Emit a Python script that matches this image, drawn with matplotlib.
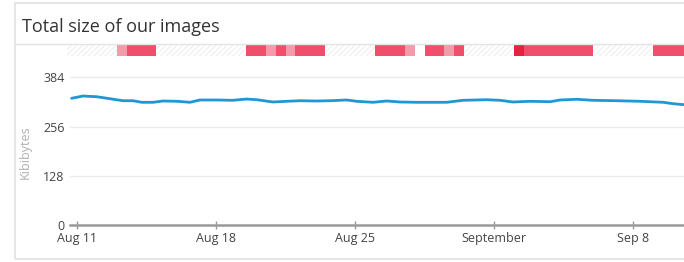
import matplotlib
matplotlib.use("Agg")
import matplotlib.pyplot as plt
from matplotlib.patches import Rectangle
import numpy as np

plt.rcParams['font.family'] = ['Open Sans', 'DejaVu Sans']
plt.rcParams['hatch.linewidth'] = 0.7

# line data: days after Aug 11, size in KiB
days = [-0.27, 0.30, 0.99, 1.66, 2.32, 2.82, 3.26, 3.83, 4.33, 5.04, 5.69, 6.19,
        7.03, 7.85, 8.54, 9.05, 9.87, 10.56, 11.23, 12.07, 12.74, 13.58, 14.08,
        14.90, 15.59, 16.26, 17.10, 18.61, 19.44, 20.63, 21.30, 21.95, 22.81,
        23.82, 24.32, 25.16, 25.98, 27.17, 28.35, 29.51, 30.01, 30.56]
kib = [329.6, 335.5, 333.7, 328.5, 323.3, 323.3, 319.2, 319.2, 322.6, 321.8,
       319.2, 325.2, 325.2, 324.4, 327.7, 325.9, 320.0, 321.8, 323.3, 322.6,
       323.3, 325.2, 321.8, 319.2, 322.6, 320.0, 319.2, 319.2, 324.4, 325.9,
       324.4, 320.0, 321.8, 320.7, 325.2, 327.0, 324.4, 323.3, 321.8, 319.2,
       315.6, 313.0]

# status strip: half-day buckets starting at day -0.5
# 0 = no data, -1 = blank, 1 = warning, 2 = alert, 3 = critical
status = [0, 0, 0, 0, 0, 1, 2, 2, 2,
          0, 0, 0, 0, 0, 0, 0, 0, 0,
          2, 2, 1, 2, 1, 2, 2, 2,
          0, 0, 0, 0, 0,
          2, 2, 2, 1, -1, 2, 2, 1, 2,
          0, 0, 0, 0, 0,
          3, 2, 2, 2, 2, 2, 2, 2,
          0, 0, 0, 0, 0, 0,
          2, 2, 2, 2]
status_colors = {-1: 'white', 1: '#f59aaa', 2: '#f04f6c', 3: '#e6203f'}

tick_days = [0, 7, 14, 21, 28]
tick_labels = ['Aug 11', 'Aug 18', 'Aug 25', 'September', 'Sep 8']
y_ticks = [0, 128, 256, 384]

W, H = 684, 262
fig = plt.figure(figsize=(W / 100, H / 100), dpi=100)
fig.patch.set_facecolor('white')

# card border + header separator
fig.patches.append(Rectangle((15 / W, 3 / H), 1, 256 / H, transform=fig.transFigure,
                             facecolor='none', edgecolor='#e2e2e2', lw=1.2, zorder=-1))
fig.add_artist(plt.Line2D([15 / W, 1], [1 - 43.5 / H, 1 - 43.5 / H],
                          color='#e4e4e4', lw=1, transform=fig.transFigure))
fig.text(22 / W, 1 - 32 / H, 'Total size of our images', fontsize=13,
         color='#333333', ha='left', va='baseline')

# status strip
x0 = -0.5
xmax = 30.56
sax = fig.add_axes([67 / W, 1 - 55.7 / H, 1 - 67 / W, 11.4 / H])
sax.bar(x0, 1, width=xmax - x0, align='edge', facecolor='white',
        edgecolor='#ececec', hatch='//////', lw=0)
for i, s in enumerate(status):
    if s != 0:
        sax.bar(x0 + i * 0.5, 1, width=0.5, align='edge',
                color=status_colors[s], lw=0)
sax.set_xlim(x0, xmax)
sax.set_ylim(0, 1)
sax.axis('off')

# main chart
left = 70
ax = fig.add_axes([left / W, 1 - 225.3 / H, 1 - left / W, (225.3 - 64) / H])
ax.plot(days, kib, color='#1f96d6', lw=2, solid_capstyle='round')
ax.set_xlim((left - 77) / 19.86, xmax)
ax.set_ylim(0, 418.6)
ax.set_yticks(y_ticks)
ax.set_yticklabels([str(v) for v in y_ticks], fontsize=9, color='#444444')
ax.set_xticks(tick_days)
ax.set_xticklabels(tick_labels, fontsize=9, color='#444444')
ax.tick_params(axis='y', length=0, pad=4)
ax.tick_params(axis='x', direction='inout', length=6, width=1, color='#999999', pad=2)
ax.grid(axis='y', color='#ebebeb', lw=1)
ax.set_axisbelow(True)
for sp in ['top', 'right', 'left', 'bottom']:
    ax.spines[sp].set_visible(False)
ax.plot([0, 1], [0, 0], transform=ax.transAxes, clip_on=False,
        color='#9a9a9a', lw=1.8)
ax.set_ylabel('Kibibytes', fontsize=9, color='#b0b0b0')
ax.yaxis.set_label_coords(-0.062, 0.455)
ax.patch.set_alpha(0)

fig.savefig('out.png', dpi=100)
